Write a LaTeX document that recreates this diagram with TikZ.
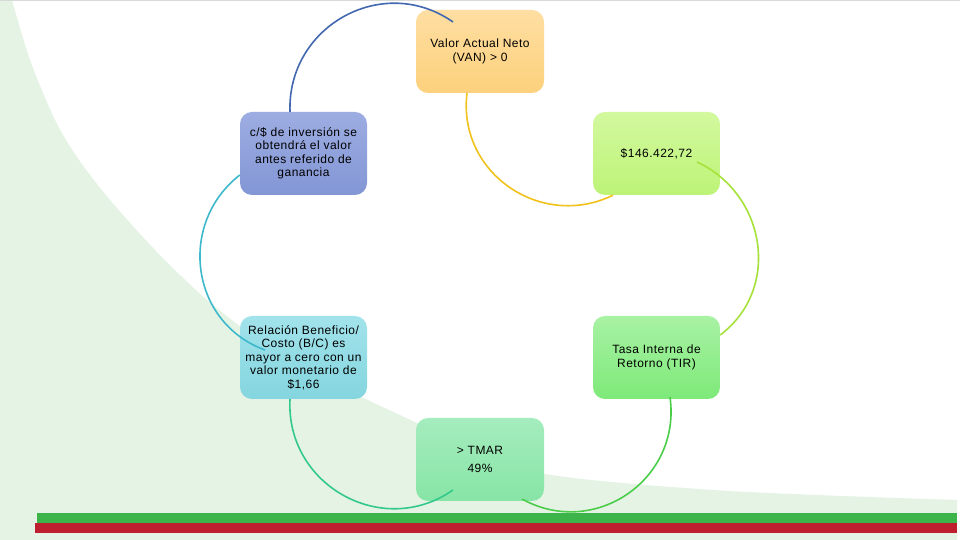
\documentclass[tikz,border=0pt]{standalone}
\usepackage{fontspec}
\setmainfont[LetterSpace=4]{Liberation Sans}
\usetikzlibrary{calc}
\definecolor{bggreen}{HTML}{E5F3E5}
\definecolor{bargreen}{HTML}{3CB44A}
\definecolor{barred}{HTML}{BE1E2D}
\definecolor{vanT}{HTML}{FEDEA2}
\definecolor{vanB}{HTML}{FDD17C}
\definecolor{csT}{HTML}{9DADE2}
\definecolor{csB}{HTML}{8396D5}
\definecolor{kT}{HTML}{D3F89E}
\definecolor{kB}{HTML}{BCF477}
\definecolor{bcT}{HTML}{A2E3EB}
\definecolor{bcB}{HTML}{84D5DF}
\definecolor{tirT}{HTML}{A8F2A4}
\definecolor{tirB}{HTML}{7EE979}
\definecolor{tmT}{HTML}{A5ECBE}
\definecolor{tmB}{HTML}{87E5A6}
\definecolor{cblue}{HTML}{4468B0}
\definecolor{cteal}{HTML}{3DB9CB}
\definecolor{ctg}{HTML}{33C88C}
\definecolor{cgreen}{HTML}{4CCD4A}
\definecolor{cyg}{HTML}{A6E23A}
\definecolor{cyellow}{HTML}{F2C21C}
\tikzset{
  box/.style={rounded corners=12pt, minimum width=128pt, minimum height=83pt,
    inner sep=2pt, align=center, font=\fontsize{12}{13.5}\selectfont},
  conn/.style={line width=1.6pt}
}
\begin{document}
\begin{tikzpicture}[x=1pt,y=1pt]
\useasboundingbox (0,0) rectangle (960,540);
% background
\fill[white] (0,0) rectangle (960,540);
\fill[bggreen] (0,0) -- (0,540) -- (12,540)
  -- plot[smooth, tension=0.5] coordinates {(12,540) (30,480) (55,420) (79,380) (110,340) (155,290) (207,240) (270,192) (333,157) (417,117) (523,70) (713,50) (957,40)}
  -- (957,0) -- cycle;
\fill[gray!30] (0,538.5) rectangle (960,540);
\fill[bargreen] (37,17) rectangle (957,27);
\fill[barred] (35,7) rectangle (957,17);
% nodes
\node[box, top color=vanT, bottom color=vanB] (van) at (480,488.5) {Valor Actual Neto\\(VAN) > 0};
\node[box, top color=csT, bottom color=csB, minimum width=127pt] (cs) at (303.5,386.5) {c/\$ de inversión se\\obtendrá el valor\\antes referido de\\ganancia};
\node[box, top color=kT, bottom color=kB, minimum width=127pt] (k146) at (656.5,386.5) {\$146.422,72};
\node[box, top color=bcT, bottom color=bcB, minimum width=127pt] (bc) at (303.5,182.5) {Relación Beneficio/\\Costo (B/C) es\\mayor a cero con un\\valor monetario de\\\$1,66};
\node[box, top color=tirT, bottom color=tirB, minimum width=127pt] (tir) at (656.5,182.5) {Tasa Interna de\\Retorno (TIR)};
\node[box, top color=tmT, bottom color=tmB] (tmar) at (480,80.5) {> TMAR\\[5pt]49\%};
% connectors
\draw[conn, cblue] ($(cs.north)+(-13.5,0)$) to[out=92,in=145,looseness=1.18] ($(van.center)+(-27,29.5)$);
\draw[conn, cteal] ($(cs.west)+(0,-21.5)$) to[out=218,in=160,looseness=1.15] ($(bc.center)+(-38.5,7.5)$);
\draw[conn, ctg] ($(bc.south)+(-13.5,0)$) to[out=267,in=215,looseness=1.18] ($(tmar.center)+(-27,-30.5)$);
\draw[conn, cgreen] ($(tmar.center)+(42,-39.5)$) to[out=331,in=278,looseness=1.18] ($(tir.south)+(13.5,2)$);
\draw[conn, cyg] ($(tir.east)+(0,22.5)$) to[out=37,in=335,looseness=1.12] ($(k146.center)+(40.5,-8.5)$);
\draw[conn, cyellow] ($(van.south)+(-13,0)$) to[out=263,in=206,looseness=1.15] ($(k146.south)+(-43.5,0)$);
\end{tikzpicture}
\end{document}
